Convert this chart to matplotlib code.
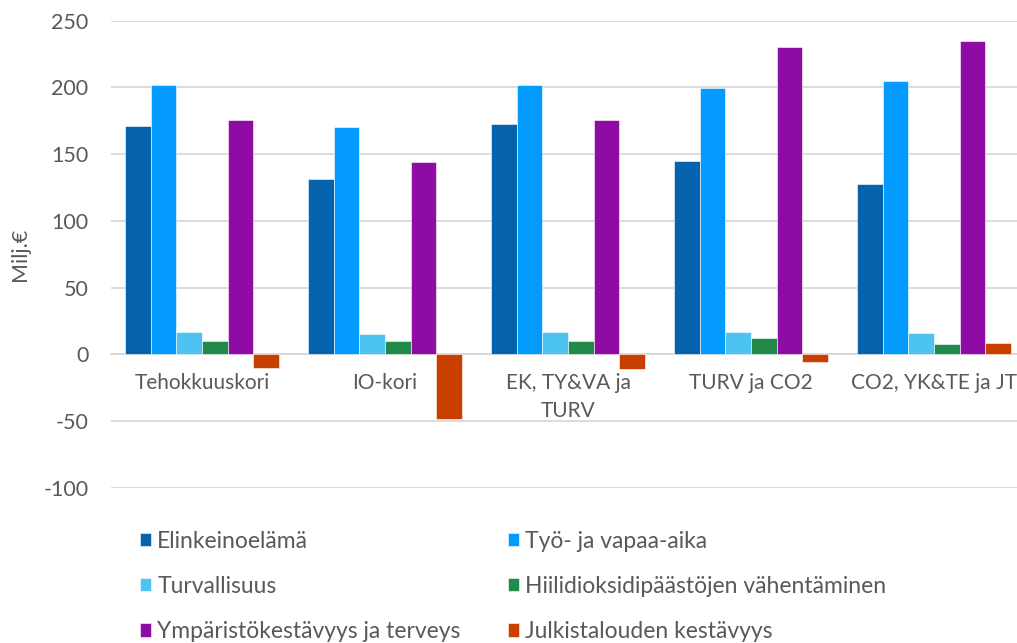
import matplotlib
matplotlib.use("Agg")
import matplotlib.pyplot as plt
import numpy as np

plt.rcParams['font.family'] = ['Lato', 'DejaVu Sans']
plt.rcParams['axes.unicode_minus'] = False

# kategoriat ja sarjat
categories = ['Tehokkuuskori', 'IO-kori', 'EK, TY&VA ja\nTURV', 'TURV ja CO2', 'CO2, YK&TE ja JT']
series_names = ['Elinkeinoelämä', 'Työ- ja vapaa-aika', 'Turvallisuus',
                'Hiilidioksidipäästöjen vähentäminen', 'Ympäristökestävyys ja terveys',
                'Julkistalouden kestävyys']
elinkeino = [171.5, 131.5, 172.5, 145, 128]
tyo = [202, 170.5, 201.5, 199.5, 204.6]
turvallisuus = [17.2, 15.2, 17.2, 16.6, 16.2]
hiili = [10.3, 9.8, 10.4, 12, 8.2]
ymparisto = [175.5, 144, 175.5, 230, 234.7]
julkis = [-10, -48.4, -10.5, -6, 8.5]
values = [elinkeino, tyo, turvallisuus, hiili, ymparisto, julkis]
colors = ['#0563AE', '#039BFE', '#4CC3F1', '#218A4B', '#8E0CA3', '#C83F00']

fs = 15
txt = '#595959'

fig = plt.figure(figsize=(10.17, 6.43), dpi=100)
ax = fig.add_axes([110.5 / 1017, 1 - 488 / 643, 915 / 1017, (488 - 20.7) / 643])

x = np.arange(len(categories))
w = 0.1405
for i, (name, vals) in enumerate(zip(series_names, values)):
    ax.bar(x + (i - 2.5) * w, vals, w, color=colors[i], label=name,
           edgecolor='white', linewidth=0.4, zorder=3)

ax.set_ylim(-100, 250)
ax.set_xlim(-0.5, len(categories) - 0.5)
ax.set_yticks(range(-100, 251, 50))
ax.yaxis.grid(True, color='#D9D9D9', linewidth=1.3, zorder=0)
for s in ['top', 'right', 'left']:
    ax.spines[s].set_visible(False)
ax.spines['bottom'].set_position(('data', 0))
ax.spines['bottom'].set_color('#D9D9D9')
ax.spines['bottom'].set_linewidth(1.3)
ax.set_xticks(x)
ax.set_xticklabels(categories, linespacing=1.5)
ax.tick_params(axis='x', length=0, pad=13, labelsize=fs, labelcolor=txt)
ax.tick_params(axis='y', length=0, pad=16, labelsize=15.5, labelcolor=txt)
ax.set_ylabel('Milj.€', fontsize=15.5, color=txt)
ax.yaxis.set_label_coords(-80 / 915, 0.5)

handles, labels = ax.get_legend_handles_labels()
leg_kw = dict(frameon=False, fontsize=16.5, labelcolor=txt, handlelength=0.5,
              handleheight=0.5, handletextpad=0.25, labelspacing=1.05, borderpad=0,
              borderaxespad=0)
leg1 = fig.legend(handles[0::2], labels[0::2], loc='upper left',
                  bbox_to_anchor=(140 / 1017, 1 - 531 / 643), **leg_kw)
leg2 = fig.legend(handles[1::2], labels[1::2], loc='upper left',
                  bbox_to_anchor=(508 / 1017, 1 - 531 / 643), **leg_kw)

fig.savefig('out.png', dpi=100)
